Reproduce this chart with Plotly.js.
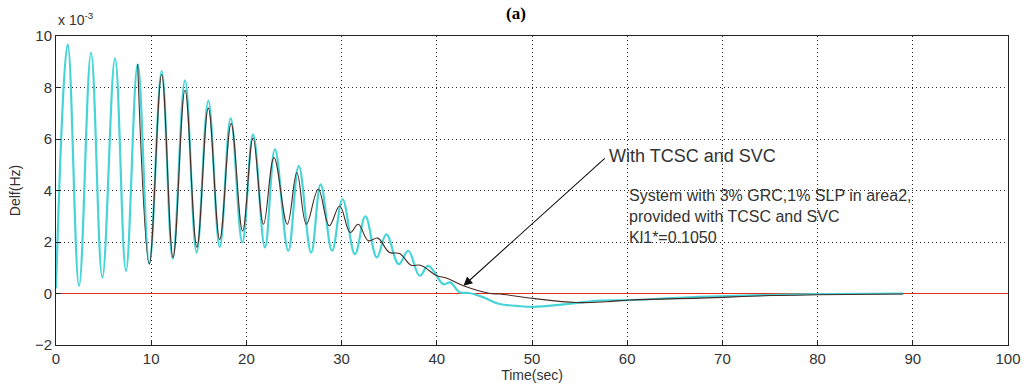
<!DOCTYPE html>
<html>
<head>
<meta charset="utf-8">
<script src="https://cdn.plot.ly/plotly-3.0.1.min.js"></script>
<style>html,body{margin:0;padding:0;background:#fff;}#chart{width:1022px;height:387px;}</style>
</head>
<body>
<div id="chart"></div>
<script>
// Reference curve: without TCSC/SVC (cyan), values in units of 1e-3 Hz
const timeCyan = [0, 1.23, 2.42, 3.68, 4.87, 6.2, 7.35, 8.58, 9.8, 11.1, 12.26, 13.55, 14.77, 16.0, 17.2, 18.35, 19.57, 20.7, 21.95, 23.0, 24.4, 25.5, 26.8, 27.8, 29.0, 30.1, 31.4, 32.5, 33.7, 34.7, 36.0, 37.0, 38.2, 39.1, 40.7, 41.4, 42.4, 43.4, 44.9, 46.5, 48.4, 50.1, 53.6, 57.1, 60, 64.2, 67.6, 74.6, 80, 89];
const delfCyan = [0.2, 9.68, 0.30, 9.35, 0.62, 9.13, 0.88, 8.9, 1.15, 8.64, 1.35, 8.28, 1.59, 7.48, 1.81, 6.8, 1.98, 6.18, 1.79, 5.6, 1.66, 4.96, 1.59, 4.24, 1.66, 3.66, 1.53, 3.0, 1.4, 2.3, 1.14, 1.66, 0.69, 1.07, 0.36, 0.43, 0.05, 0.02, -0.15, -0.4, -0.48, -0.52, -0.41, -0.28, -0.26, -0.19, -0.13, -0.06, -0.02, 0.0];

// With TCSC and SVC (dark curve); before ~10 s it coincides with the cyan curve
const timeTcsc = [8.58, 9.8, 11.1, 12.3, 13.55, 14.8, 16.0, 17.2, 18.4, 19.6, 20.7, 21.8, 22.9, 24.3, 25.3, 26.3, 27.55, 28.7, 29.8, 30.9, 31.75, 32.8, 33.8, 35.0, 36.1, 37.3, 38.3, 40.0, 41.0, 42.8, 45.6, 46.6, 50.1, 54.7, 57.8, 60.3, 67.6, 75, 80, 89];
const delfTcsc = [8.9, 1.15, 8.5, 1.4, 7.9, 1.8, 7.2, 2.1, 6.6, 2.43, 6.05, 2.69, 5.28, 2.69, 4.7, 2.69, 4.05, 2.63, 3.4, 2.37, 2.69, 2.05, 2.15, 1.6, 1.55, 1.1, 1.1, 0.69, 0.6, 0.3, 0.0, -0.02, -0.19, -0.35, -0.32, -0.25, -0.18, -0.08, -0.05, -0.02];

// Zero reference line
const timeZero = [0, 100];
const delfZero = [0, 0];

const xTicks = [0, 10, 20, 30, 40, 50, 60, 70, 80, 90, 100];
const yTicks = [-2, 0, 2, 4, 6, 8, 10];

const traces = [
  {x: timeZero, y: delfZero, mode: 'lines', line: {color: '#e03020', width: 1.2}, hoverinfo: 'skip'},
  {x: timeCyan, y: delfCyan, mode: 'lines', line: {color: 'rgb(70,212,215)', width: 2.2, shape: 'spline', smoothing: 1.1}},
  {x: timeTcsc, y: delfTcsc, mode: 'lines', line: {color: '#4a2a22', width: 1.1, shape: 'spline', smoothing: 1.1}}
];

const FONT = 'Arial, Liberation Sans, sans-serif';
const axisFont = {family: FONT, size: 15, color: '#333'};

const layout = {
  width: 1022, height: 387,
  margin: {l: 56, r: 14, t: 36, b: 42},
  paper_bgcolor: '#fff', plot_bgcolor: '#fff',
  showlegend: false,
  font: axisFont,
  xaxis: {
    range: [0, 100], tickvals: xTicks, ticks: 'inside', ticklen: 5, tickcolor: '#222',
    showline: true, linecolor: '#222', linewidth: 1, mirror: true,
    showgrid: true, gridcolor: '#222', griddash: '1px,3px', gridwidth: 1,
    zeroline: false, tickfont: axisFont,
    title: {text: 'Time(sec)', font: {family: FONT, size: 14, color: '#333'}, standoff: 0}
  },
  yaxis: {
    range: [-2, 10], tickvals: yTicks, ticks: 'inside', ticklen: 5, tickcolor: '#222',
    showline: true, linecolor: '#222', linewidth: 1, mirror: true,
    showgrid: true, gridcolor: '#222', griddash: '1px,3px', gridwidth: 1,
    zeroline: false, tickfont: axisFont,
    title: {text: 'Delf(Hz)', font: {family: FONT, size: 14, color: '#333'}, standoff: 10}
  },
  annotations: [
    {xref: 'paper', yref: 'paper', x: 0.483, y: 1.072, text: '<b>(a)</b>', showarrow: false,
     font: {family: 'Liberation Serif, Times New Roman, serif', size: 17, color: '#000'}, xanchor: 'center', yanchor: 'middle'},
    {xref: 'paper', yref: 'paper', x: 0.0, y: 1.055, text: 'x 10<sup>-3</sup>', showarrow: false,
     font: {family: FONT, size: 14, color: '#333'}, xanchor: 'left', yanchor: 'middle'},
    {x: 42.8, y: 0.3, ax: 57.8, ay: 5.3, axref: 'x', ayref: 'y', text: '', showarrow: true,
     arrowhead: 2, arrowsize: 1.6, arrowwidth: 1.1, arrowcolor: '#111'},
    {x: 57.9, y: 5.35, text: 'With TCSC and SVC', showarrow: false, xanchor: 'left', yanchor: 'middle',
     font: {family: FONT, size: 18, color: '#333'}},
    {x: 60.0, y: 4.2, text: 'System with 3% GRC,1% SLP in area2,<br>provided with TCSC and SVC<br>Kl1*=0.1050', showarrow: false,
     xanchor: 'left', yanchor: 'top', align: 'left',
     font: {family: FONT, size: 16, color: '#333'}}
  ]
};

Plotly.newPlot('chart', traces, layout, {displayModeBar: false, staticPlot: true});
</script>
</body>
</html>
